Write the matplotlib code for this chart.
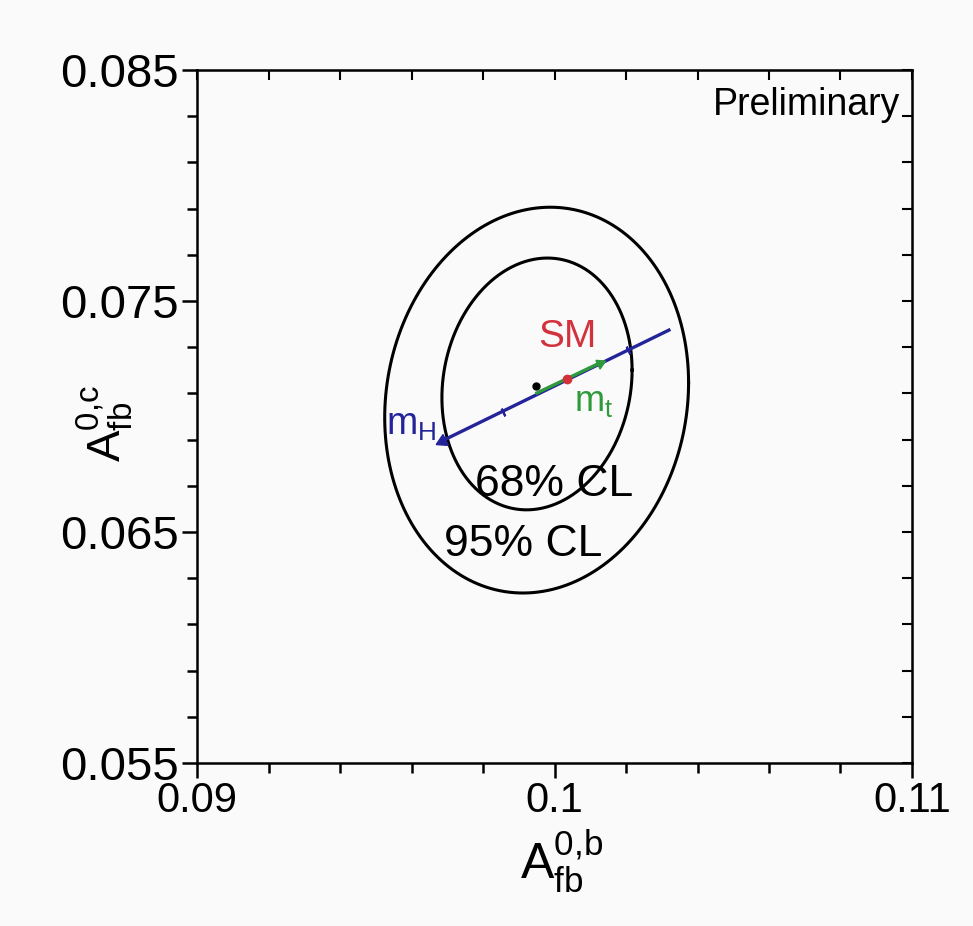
import numpy as np
import matplotlib
matplotlib.use("Agg")
import matplotlib.pyplot as plt

plt.rcParams['font.family'] = ['Liberation Sans', 'DejaVu Sans']
plt.rcParams['mathtext.default'] = 'regular'

# contour parameters (centre, half-width, half-height, correlation) per CL
cl_labels = ['68% CL', '95% CL']
cl_cx = [0.09951, 0.09950]
cl_cy = [0.07141, 0.07071]
cl_hw = [0.00266, 0.00425]
cl_hh = [0.00545, 0.00835]
cl_rho = [0.11, 0.09]
cl_text_x = [0.10000, 0.09912]
cl_text_y = [0.06704, 0.06444]

# measured value
meas_x = [0.09948]
meas_y = [0.07132]

# SM prediction: mH scan (blue), mt scan (green), SM point (red)
mh_x = [0.09685, 0.10320]
mh_y = [0.06894, 0.07374]
mh_tick_x = [0.09856, 0.10206]
mh_tick_y = [0.07020, 0.07288]
mt_x = [0.09951, 0.10127]
mt_y = [0.07102, 0.07232]
sm_x = [0.10035]
sm_y = [0.07162]

xticks = [0.09, 0.10, 0.11]
xticklabels = ['0.09', '0.1', '0.11']
yticks = [0.055, 0.065, 0.075, 0.085]
yticklabels = ['0.055', '0.065', '0.075', '0.085']

blue = '#23239a'
green = '#2e9a3c'
red = '#d2323c'

fig = plt.figure(figsize=(9.73, 9.26), dpi=100)
fig.patch.set_facecolor('#fafafb')
ax = fig.add_axes([0.2025, 0.176, 0.7348, 0.7484])
ax.set_facecolor('#fafafb')

# confidence contours
t = np.linspace(0, 2 * np.pi, 400)
for cx, cy, hw, hh, rho in zip(cl_cx, cl_cy, cl_hw, cl_hh, cl_rho):
    ex = cx + hw * np.cos(t)
    ey = cy + hh * (rho * np.cos(t) + np.sqrt(1 - rho ** 2) * np.sin(t))
    ax.plot(ex, ey, color='black', lw=2.2)

for lab, tx, ty in zip(cl_labels, cl_text_x, cl_text_y):
    ax.text(tx, ty, lab, fontsize=32, ha='center', va='center')

# SM line
ax.plot(mh_x, mh_y, color=blue, lw=2.4)
ax.plot(mh_x[:1], mh_y[:1], marker=(3, 0, 116), color=blue, ms=10, ls='none')
ax.plot(mh_tick_x, mh_tick_y, marker=(2, 2, 26), color=blue, ms=6, mew=1.5, ls='none')
ax.plot(mt_x, mt_y, color=green, lw=2.4)
ax.plot(mt_x[-1:], mt_y[-1:], marker=(3, 0, -64), color=green, ms=8, ls='none')
ax.plot(sm_x, sm_y, 'o', color=red, ms=6)
ax.plot(meas_x, meas_y, 'o', color='black', ms=5)

ax.text(0.10035, 0.07344, 'SM', color=red, fontsize=28, ha='center', va='center')
ax.text(0.09600, 0.06963, '$m_H$', color=blue, fontsize=27, ha='center', va='center')
ax.text(0.10110, 0.07063, '$m_t$', color=green, fontsize=26, ha='center', va='center')
ax.text(0.983, 0.975, 'Preliminary', transform=ax.transAxes, fontsize=27,
        ha='right', va='top')

ax.set_xlim(0.09, 0.11)
ax.set_ylim(0.055, 0.085)
ax.set_xticks(xticks)
ax.set_xticklabels(xticklabels)
ax.set_yticks(yticks)
ax.set_yticklabels(yticklabels)
ax.set_xticks(np.arange(0.09, 0.1101, 0.002), minor=True)
ax.set_yticks(np.arange(0.055, 0.0851, 0.002), minor=True)
ax.tick_params(which='both', direction='out', width=1.8, pad=2)
ax.tick_params(axis='x', labelsize=30)
ax.tick_params(axis='y', labelsize=34)
ax.tick_params(which='major', length=11)
ax.tick_params(which='minor', length=7)
for s in ax.spines.values():
    s.set_linewidth(1.8)

# inward ticks on top and right
top = ax.secondary_xaxis('top')
top.set_xticks(xticks)
top.set_xticks(np.arange(0.09, 0.1101, 0.002), minor=True)
top.tick_params(which='both', direction='in', width=1.5, labeltop=False, length=7)
right = ax.secondary_yaxis('right')
right.set_yticks(yticks)
right.set_yticks(np.arange(0.055, 0.0851, 0.002), minor=True)
right.tick_params(which='both', direction='in', width=1.5, labelright=False, length=7)

ax.set_xlabel('$A_{fb}^{0{,}b}$', fontsize=36)
ax.xaxis.set_label_coords(0.51, -0.095)
ax.set_ylabel('$A_{fb}^{0{,}c}$', fontsize=34)
ax.yaxis.set_label_coords(-0.085, 0.49)

fig.savefig('out.png', dpi=100, facecolor=fig.get_facecolor())
